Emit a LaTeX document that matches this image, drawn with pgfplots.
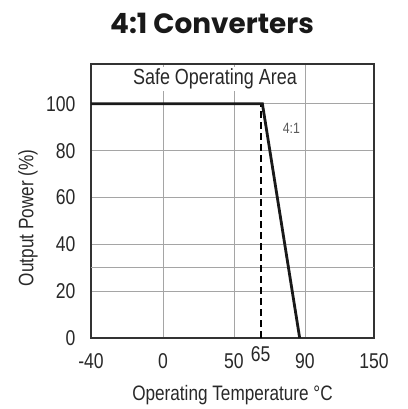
\documentclass[border=0pt]{standalone}
\usepackage{pgfplots}
\pgfplotsset{compat=1.18}
\usepackage{fontspec}
\setmainfont{Liberation Sans}[FakeStretch=0.82]
\newfontfamily\titlefont{Poppins}
\definecolor{gridgray}{RGB}{165,165,165}
\definecolor{txt}{RGB}{40,40,40}
\begin{document}
\begin{tikzpicture}
\useasboundingbox (-91bp,-71bp) rectangle (317bp,338bp);
\begin{axis}[
 at={(0,0)}, anchor=south west,
 scale only axis, width=283bp, height=274bp,
 x coord trafo/.code={\pgfmathparse{(#1<0) ? (72*(#1+40)/40) : ((#1<50) ? (72+71*#1/50) : ((#1<90) ? (143+71*(#1-50)/40) : (214+69*(#1-90)/60)))}},
 xmin=-40, xmax=150, ymin=0, ymax=117,
 xtick={-40,0,50,90,150}, xticklabels={-40,0,50,90,150},
 extra x ticks={65}, extra x tick labels={65},
 extra x tick style={grid=none, xticklabel style={yshift=7bp}},
 ytick={0,20,40,60,80,100},
 extra y ticks={30}, extra y tick labels={{}},
 extra y tick style={grid=major},
 grid=major, major grid style={gridgray, line width=0.9bp},
 major tick length=0,
 axis line style={draw=black!80, line width=1.1bp},
 tick label style={font=\fontsize{21.5}{24}\selectfont, text=txt},
 /pgf/number format/assume math mode=true,
 xticklabel style={yshift=-12bp},
 yticklabel style={xshift=-12bp},
 xlabel={Operating Temperature °C},
 ylabel={Output Power (\%)},
 label style={font=\fontsize{21}{24}\selectfont, text=txt},
 xlabel style={at={(axis description cs:0.5,-0.208)}, anchor=center},
 ylabel style={at={(axis description cs:-0.223,0.438)}, anchor=center},
]
\addplot[black, line width=1.8bp, dash pattern=on 7bp off 4bp] coordinates {(65,0) (65,100)};
\addplot[black!90, line width=2.8bp] coordinates {(-40,100) (66,100) (87,0)};
\node[fill=white, inner sep=2bp, font=\fontsize{22}{24}\selectfont, text=txt] at (rel axis cs:0.438,0.945) {Safe Operating Area};
\node[fill=white, inner sep=1.5bp, font=\fontsize{15}{17}\selectfont, text=black!65] at (rel axis cs:0.708,0.766) {4:1};
\end{axis}
\node[font=\titlefont\bfseries\fontsize{28}{32}\selectfont, text=black!90] at (121bp,315bp) {4:1 Converters};
\end{tikzpicture}
\end{document}
